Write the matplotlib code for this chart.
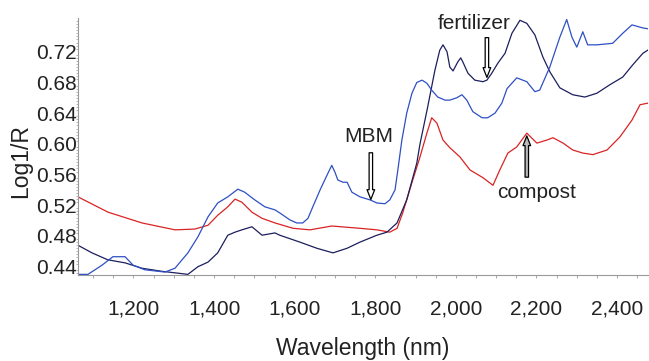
import numpy as np
import matplotlib
matplotlib.use("Agg")
import matplotlib.pyplot as plt
from matplotlib.ticker import MultipleLocator, FuncFormatter

plt.rcParams['font.family'] = ['Liberation Sans', 'DejaVu Sans']

# Spectra (wavelength in nm, log(1/R))
mbm_nm = [1062, 1087, 1122, 1149, 1179, 1199, 1228, 1278, 1303, 1335, 1360, 1385, 1409,
          1434, 1459, 1476, 1501, 1526, 1551, 1563, 1588, 1605, 1620, 1633, 1645, 1663,
          1680, 1692, 1700, 1707, 1720, 1730, 1742, 1762, 1787, 1804, 1824, 1836, 1849,
          1856, 1866, 1878, 1891, 1903, 1916, 1928, 1940, 1955, 1973, 1985, 2002, 2015,
          2027, 2042, 2065, 2079, 2097, 2114, 2127, 2151, 2176, 2196, 2208, 2233, 2258,
          2275, 2288, 2300, 2315, 2327, 2350, 2389, 2414, 2437, 2464, 2476]
mbm_val = [0.430, 0.430, 0.442, 0.453, 0.453, 0.442, 0.436, 0.433, 0.438, 0.458, 0.479, 0.505, 0.523,
           0.531, 0.541, 0.537, 0.527, 0.518, 0.514, 0.510, 0.501, 0.497, 0.497, 0.503, 0.518, 0.540,
           0.559, 0.572, 0.563, 0.553, 0.550, 0.550, 0.537, 0.531, 0.527, 0.523, 0.522, 0.527, 0.540,
           0.566, 0.605, 0.640, 0.666, 0.680, 0.683, 0.679, 0.670, 0.661, 0.657, 0.657, 0.660, 0.664,
           0.657, 0.642, 0.634, 0.634, 0.640, 0.653, 0.672, 0.686, 0.681, 0.668, 0.670, 0.700, 0.739,
           0.762, 0.739, 0.726, 0.746, 0.729, 0.729, 0.731, 0.744, 0.755, 0.751, 0.750]

fert_nm = [1062, 1097, 1136, 1179, 1221, 1270, 1303, 1335, 1360, 1385, 1409, 1434, 1452,
           1469, 1494, 1519, 1551, 1563, 1613, 1655, 1695, 1730, 1762, 1804, 1829, 1854,
           1878, 1903, 1911, 1930, 1948, 1960, 1968, 1978, 1985, 1993, 2005, 2012, 2017,
           2030, 2047, 2067, 2077, 2089, 2104, 2122, 2139, 2159, 2176, 2196, 2216, 2233,
           2258, 2290, 2320, 2350, 2382, 2414, 2439, 2464, 2476]
fert_val = [0.468, 0.458, 0.449, 0.445, 0.438, 0.434, 0.432, 0.430, 0.440, 0.446, 0.458, 0.481, 0.485,
            0.488, 0.492, 0.481, 0.484, 0.481, 0.472, 0.464, 0.458, 0.464, 0.472, 0.481, 0.485, 0.497,
            0.527, 0.575, 0.600, 0.648, 0.696, 0.722, 0.729, 0.720, 0.700, 0.695, 0.707, 0.712, 0.707,
            0.692, 0.683, 0.681, 0.683, 0.692, 0.705, 0.718, 0.744, 0.761, 0.757, 0.742, 0.713, 0.694,
            0.673, 0.664, 0.661, 0.666, 0.677, 0.687, 0.703, 0.718, 0.722]

comp_nm = [1062, 1137, 1221, 1303, 1352, 1385, 1409, 1434, 1452, 1469, 1494, 1519, 1551,
           1596, 1638, 1692, 1762, 1804, 1836, 1854, 1868, 1893, 1911, 1928, 1940, 1953,
           1968, 1985, 2010, 2035, 2067, 2092, 2109, 2129, 2151, 2176, 2201, 2226, 2241,
           2266, 2290, 2315, 2340, 2375, 2407, 2437, 2457, 2476]
comp_val = [0.531, 0.511, 0.497, 0.488, 0.489, 0.494, 0.507, 0.518, 0.528, 0.524, 0.511, 0.503, 0.497,
            0.490, 0.488, 0.493, 0.490, 0.488, 0.485, 0.490, 0.510, 0.553, 0.583, 0.614, 0.634, 0.627,
            0.605, 0.595, 0.583, 0.566, 0.556, 0.546, 0.566, 0.588, 0.596, 0.614, 0.601, 0.605, 0.608,
            0.601, 0.592, 0.588, 0.586, 0.592, 0.609, 0.631, 0.651, 0.653]

x_ticks = [1200, 1400, 1600, 1800, 2000, 2200, 2400]
y_ticks = [0.44, 0.48, 0.52, 0.56, 0.60, 0.64, 0.68, 0.72]

fig = plt.figure(figsize=(6.49, 3.61), dpi=100)
ax = fig.add_axes([0.120, 0.237, 0.878, 0.713])

ax.plot(comp_nm, comp_val, color='#d92424', lw=0.9)
ax.plot(fert_nm, fert_val, color='#1c1f5c', lw=0.9)
ax.plot(mbm_nm, mbm_val, color='#2f4fc4', lw=0.9)

ax.set_xlim(1062, 2476)
ax.set_ylim(0.4286, 0.7639)

for s in ['top', 'right']:
    ax.spines[s].set_visible(False)
for s in ['left', 'bottom']:
    ax.spines[s].set_color('#9a9a9a')
    ax.spines[s].set_linewidth(0.8)

ax.set_xticks(x_ticks)
ax.xaxis.set_major_formatter(FuncFormatter(lambda v, p: f"{int(v):,}"))
ax.xaxis.set_minor_locator(MultipleLocator(50))
ax.set_yticks(y_ticks)
ax.yaxis.set_major_formatter(FuncFormatter(lambda v, p: f"{v:.2f}"))
ax.yaxis.set_minor_locator(MultipleLocator(0.004))

ax.tick_params(axis='x', which='both', length=2.5, width=0.6, color='#9a9a9a',
               labelsize=15, pad=15, labelcolor='#222222')
ax.tick_params(axis='y', which='major', length=0, pad=0.5, labelsize=15, labelcolor='#222222')
ax.tick_params(axis='y', which='minor', length=1.5, width=0.5, color='#9a9a9a')

ax.set_xlabel('Wavelength (nm)', fontsize=16.5, color='#222222', labelpad=13)
ax.set_ylabel('Log1/R', fontsize=16.5, color='#222222')
ax.yaxis.set_label_coords(-0.080, 0.445)

# arrows pointing at the three spectra
arrow = 'simple,head_length=0.7,head_width=0.55,tail_width=0.25'
ax.annotate('', xy=(2077, 0.683), xytext=(2077, 0.742),
            arrowprops=dict(arrowstyle=arrow, fc='white', ec='black', lw=0.9))
ax.text(2045, 0.757, 'fertilizer', fontsize=15, color='#222222', ha='center', va='center')

ax.annotate('', xy=(1789, 0.524), xytext=(1789, 0.592),
            arrowprops=dict(arrowstyle=arrow, fc='white', ec='black', lw=0.9))
ax.text(1784, 0.609, 'MBM', fontsize=15, color='#222222', ha='center', va='center')

ax.annotate('', xy=(2176, 0.614), xytext=(2176, 0.553),
            arrowprops=dict(arrowstyle=arrow, fc='#b8b8b8', ec='black', lw=0.9))
ax.text(2201, 0.536, 'compost', fontsize=15, color='#222222', ha='center', va='center')

fig.savefig('out.png', dpi=100)
